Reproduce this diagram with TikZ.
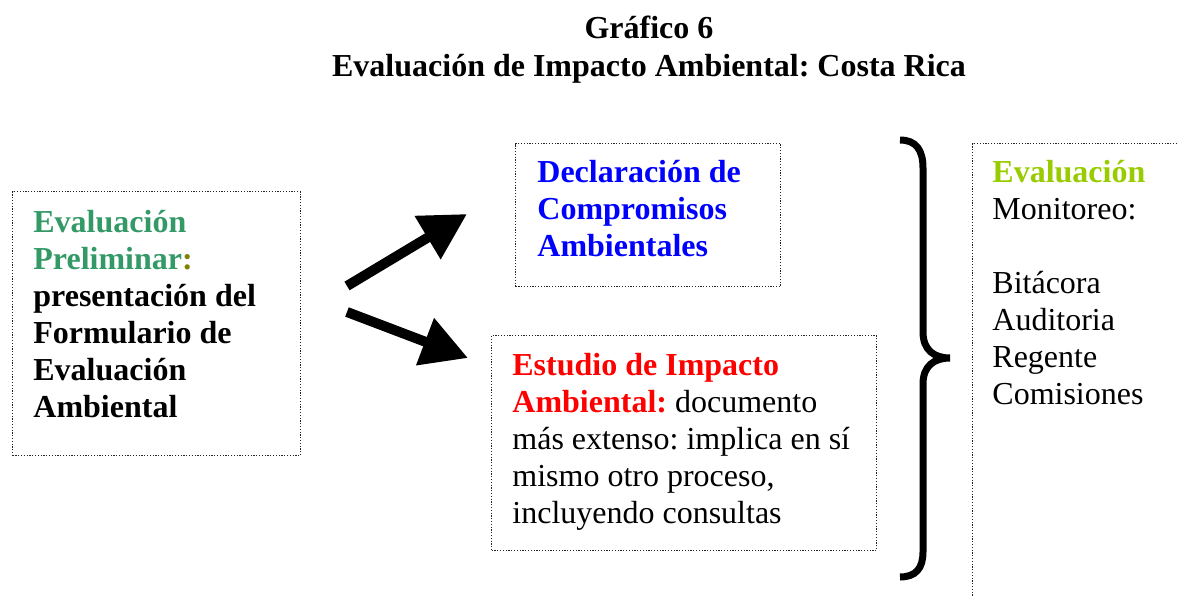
\documentclass[tikz,border=0pt]{standalone}
\usepackage{fontspec}
\setmainfont{Liberation Serif}
\usetikzlibrary{arrows.meta, positioning}
\definecolor{prelimgreen}{RGB}{51,153,102}
\definecolor{colonolive}{RGB}{128,128,0}
\definecolor{evalgreen}{RGB}{153,204,0}
\frenchspacing
\tikzstyle{frame} = [rectangle, draw=black!85, line width=0.6pt, dash pattern=on 0.6pt off 0.8pt, inner sep=0pt, anchor=north west]
\tikzstyle{body} = [inner sep=0pt, anchor=base west, align=flush left, text width=200pt, font=\fontsize{16}{18.5}\selectfont]
\tikzstyle{bodybold} = [body, font=\fontsize{16}{18.5}\selectfont\bfseries]
\tikzstyle{arrow} = [line width=5pt, -{Triangle[length=23pt, width=24pt]}]

\begin{document}
\begin{tikzpicture}[x=0.5pt, y=-0.5pt]
\useasboundingbox (0,0) rectangle (1178,595);

\node (title) [anchor=base, align=flush center, text width=400pt, font=\bfseries\fontsize{16}{19}\selectfont] at (649,38) {Gráfico 6\\Evaluación de Impacto Ambiental: Costa Rica};

\node (prelim) [frame, minimum width=144pt, minimum height=132pt] at (12,191) {};
\node (prelimtext) [bodybold] at ([shift={(21,41)}]prelim.north west) {{\color{prelimgreen}Evaluación\\Preliminar}{\color{colonolive}:}\\presentación del\\Formulario de\\Evaluación\\Ambiental};

\node (decl) [frame, minimum width=132.5pt, minimum height=71.5pt] at (515,143) {};
\node (decltext) [bodybold, text=blue] at ([shift={(22,39)}]decl.north west) {Declaración de\\Compromisos\\Ambientales};

\node (estudio) [frame, minimum width=192.5pt, minimum height=107.5pt] at (491,335) {};
\node (estudiotext) [body] at ([shift={(21,40)}]estudio.north west) {{\bfseries\color{red}Estudio de Impacto\\Ambiental:} documento\\más extenso: implica en sí\\mismo otro proceso,\\incluyendo consultas};

\node (monitor) [frame, minimum width=110pt, minimum height=235pt] at (972,143) {};
\node (monitortext) [body] at ([shift={(20,39)}]monitor.north west) {{\bfseries\color{evalgreen}Evaluación}\\Monitoreo:\\[18.5pt]Bitácora\\Auditoria\\Regente\\Comisiones};

\coordinate (upfrom) at (347,286);
\coordinate (upto) at (467,214);
\coordinate (downfrom) at (347,312);
\coordinate (downto) at (468,358);

\draw [arrow] (upfrom) -- (upto);
\draw [arrow] (downfrom) -- (downto);

% llave
\draw [line width=3.5pt] (900,140) .. controls (916,140) and (923,150) .. (923,168) -- (923,332) .. controls (923,350) and (934,358) .. (950,358) .. controls (934,358) and (923,366) .. (923,384) -- (923,552) .. controls (923,568) and (916,577) .. (900,577);

\end{tikzpicture}
\end{document}
